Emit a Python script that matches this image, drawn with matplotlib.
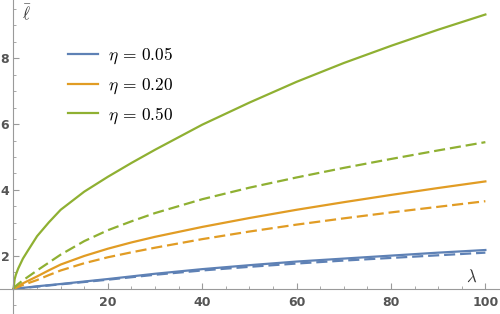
import matplotlib
matplotlib.use("Agg")
import matplotlib.pyplot as plt
from matplotlib.lines import Line2D
from matplotlib.ticker import MultipleLocator

plt.rcParams['mathtext.fontset'] = 'cm'

# data
lam = [0, 0.25, 0.5, 1, 2, 3, 5, 7.5, 10, 15, 20, 25, 30, 40, 50, 60, 70, 80, 90, 100]
green_solid = [1, 1.3, 1.43, 1.62, 1.92, 2.15, 2.6, 3.02, 3.4, 3.95, 4.4, 4.82, 5.22, 5.98, 6.65, 7.28, 7.85, 8.37, 8.86, 9.32]
green_dashed = [1, 1.06, 1.09, 1.15, 1.26, 1.36, 1.56, 1.8, 2.04, 2.45, 2.78, 3.05, 3.3, 3.72, 4.07, 4.38, 4.67, 4.94, 5.2, 5.45]
orange_solid = [1, 1.03, 1.05, 1.09, 1.17, 1.24, 1.38, 1.565, 1.74, 2.0, 2.22, 2.41, 2.58, 2.88, 3.15, 3.4, 3.63, 3.85, 4.06, 4.26]
orange_dashed = [1, 1.02, 1.03, 1.06, 1.12, 1.17, 1.27, 1.42, 1.56, 1.78, 1.96, 2.11, 2.25, 2.51, 2.74, 2.95, 3.14, 3.32, 3.49, 3.66]

lam_b = [0, 5, 10, 20, 30, 40, 50, 60, 70, 80, 90, 100]
blue_solid = [1, 1.08, 1.15, 1.3, 1.46, 1.6, 1.72, 1.83, 1.92, 2.01, 2.1, 2.18]
blue_dashed = [1, 1.07, 1.14, 1.28, 1.43, 1.56, 1.67, 1.77, 1.86, 1.94, 2.02, 2.1]

labels = [r'$\eta\,=\,0.05$', r'$\eta\,=\,0.20$', r'$\eta\,=\,0.50$']
x_ticks = [20, 40, 60, 80, 100]
y_ticks = [2, 4, 6, 8]

c_blue = '#5E81B5'
c_orange = '#E19C24'
c_green = '#8FB032'

fig = plt.figure(figsize=(5.0, 3.14), dpi=100)
ax = fig.add_axes([0, 0, 1, 1])
ax.set_xlim(-2.86, 103.1)
ax.set_ylim(0.24, 9.76)

lw = 1.6
dash = (5, 2.2)
ax.plot(lam_b, blue_dashed, color=c_blue, lw=lw, dashes=dash)
ax.plot(lam_b, blue_solid, color=c_blue, lw=lw)
ax.plot(lam, orange_dashed, color=c_orange, lw=lw, dashes=dash)
ax.plot(lam, orange_solid, color=c_orange, lw=lw)
ax.plot(lam, green_dashed, color=c_green, lw=lw, dashes=dash)
ax.plot(lam, green_solid, color=c_green, lw=lw)

for s in ['top', 'right']:
    ax.spines[s].set_visible(False)
ax.spines['left'].set_position(('data', 0))
ax.spines['bottom'].set_position(('data', 1))
for s in ['left', 'bottom']:
    ax.spines[s].set_color('#9a9a9a')
    ax.spines[s].set_linewidth(0.8)

ax.set_xticks(x_ticks)
ax.set_yticks(y_ticks)
ax.xaxis.set_minor_locator(MultipleLocator(5))
ax.yaxis.set_minor_locator(MultipleLocator(0.5))
ax.tick_params(which='major', direction='in', length=4, width=0.8, color='#9a9a9a',
               labelsize=9, labelcolor='#555555')
ax.tick_params(which='minor', direction='in', length=2.5, width=0.6, color='#9a9a9a')
ax.tick_params(axis='x', pad=5)
ax.tick_params(axis='y', pad=3)
for t in ax.get_xticklabels() + ax.get_yticklabels():
    t.set_fontweight('bold')

fig.text(22 / 500, 1 - 4 / 314, r'$\bar{\ell}$', fontsize=12, color='#333333',
         ha='left', va='top')
fig.text(472 / 500, 1 - 286 / 314, r'$\lambda$', fontsize=12, color='#333333',
         ha='center', va='bottom')

handles = [Line2D([], [], color=c, lw=lw) for c in (c_blue, c_orange, c_green)]
leg = ax.legend(handles, labels, loc='upper left', bbox_to_anchor=(68 / 500, 1 - 46 / 314),
                frameon=False, fontsize=12.5, handlelength=1.7, handletextpad=0.6,
                labelspacing=0.53, borderaxespad=0, borderpad=0)

fig.savefig('out.png', dpi=100)
